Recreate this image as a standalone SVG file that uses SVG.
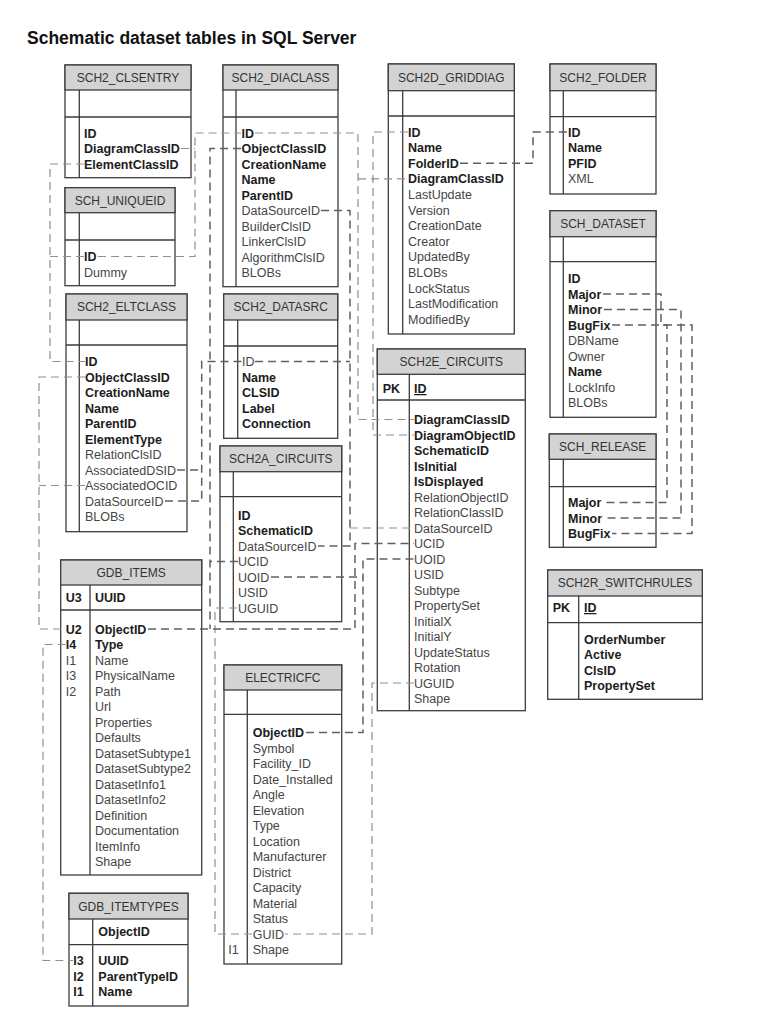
<svg xmlns="http://www.w3.org/2000/svg" width="768" height="1024" viewBox="0 0 768 1024">
<style>
text{font-family:"Liberation Sans",Arial,sans-serif;font-size:12.5px}
.t{font-size:17.5px;font-weight:bold;fill:#111}
.bx{fill:#fff;stroke:#3c3c3c;stroke-width:1.3}
.hd{fill:#d3d3d3;stroke:#3c3c3c;stroke-width:1.3}
.ln{stroke:#3c3c3c;stroke-width:1.3;fill:none}
.h{font-size:12px;fill:#333;text-anchor:middle}
.b{font-weight:bold;fill:#1c1c1c}
.r{fill:#454545}
.u{text-decoration:underline}
.c{fill:none;stroke:#8f8f8f;stroke-width:1.2;stroke-dasharray:8 5}
.d{fill:none;stroke:#606060;stroke-width:1.5;stroke-dasharray:8 5}
</style>
<rect width="768" height="1024" fill="#fff"/>
<text class="t" x="27" y="44">Schematic dataset tables in SQL Server</text>

<g id="SCH2_CLSENTRY">
<rect class="bx" x="65" y="65" width="126" height="112.7"/>
<rect class="hd" x="65" y="65" width="126" height="25"/>
<path class="ln" d="M65,117H191M79.3,90V177.7"/>
<text class="h" x="128" y="82">SCH2_CLSENTRY</text>
<text class="b" x="84" y="137.5">ID</text>
<text class="b" x="84" y="153">DiagramClassID</text>
<text class="b" x="84" y="168.5">ElementClassID</text>
</g>

<g id="SCH_UNIQUEID">
<rect class="bx" x="65" y="187.7" width="110" height="98"/>
<rect class="hd" x="65" y="187.7" width="110" height="25"/>
<path class="ln" d="M65,240H175M79.3,212.7V285.7"/>
<text class="h" x="120" y="204.5">SCH_UNIQUEID</text>
<text class="b" x="84" y="261">ID</text>
<text class="r" x="84" y="276.5">Dummy</text>
</g>

<g id="SCH2_DIACLASS">
<rect class="bx" x="223" y="65" width="115" height="221.7"/>
<rect class="hd" x="223" y="65" width="115" height="25"/>
<path class="ln" d="M223,117H338M236,90V286.7"/>
<text class="h" x="280.5" y="82">SCH2_DIACLASS</text>
<text class="b" x="241.5" y="137.5">ID</text>
<text class="b" x="241.5" y="153">ObjectClassID</text>
<text class="b" x="241.5" y="168.5">CreationName</text>
<text class="b" x="241.5" y="184">Name</text>
<text class="b" x="241.5" y="199.5">ParentID</text>
<text class="r" x="241.5" y="215">DataSourceID</text>
<text class="r" x="241.5" y="230.5">BuilderClsID</text>
<text class="r" x="241.5" y="246">LinkerClsID</text>
<text class="r" x="241.5" y="261.5">AlgorithmClsID</text>
<text class="r" x="241.5" y="277">BLOBs</text>
</g>

<g id="SCH2D_GRIDDIAG">
<rect class="bx" x="388.3" y="64" width="126" height="270"/>
<rect class="hd" x="388.3" y="64" width="126" height="26.7"/>
<path class="ln" d="M388.3,116H514.3M402.7,90.7V334"/>
<text class="h" x="451.3" y="81.5">SCH2D_GRIDDIAG</text>
<text class="b" x="408" y="136.5">ID</text>
<text class="b" x="408" y="152.1">Name</text>
<text class="b" x="408" y="167.7">FolderID</text>
<text class="b" x="408" y="183.3">DiagramClassID</text>
<text class="r" x="408" y="198.9">LastUpdate</text>
<text class="r" x="408" y="214.5">Version</text>
<text class="r" x="408" y="230.1">CreationDate</text>
<text class="r" x="408" y="245.7">Creator</text>
<text class="r" x="408" y="261.3">UpdatedBy</text>
<text class="r" x="408" y="276.9">BLOBs</text>
<text class="r" x="408" y="292.5">LockStatus</text>
<text class="r" x="408" y="308.1">LastModification</text>
<text class="r" x="408" y="323.7">ModifiedBy</text>
</g>

<g id="SCH2_FOLDER">
<rect class="bx" x="550" y="64" width="106" height="130"/>
<rect class="hd" x="550" y="64" width="106" height="26.7"/>
<path class="ln" d="M550,116.7H656M563.3,90.7V194"/>
<text class="h" x="603" y="81.5">SCH2_FOLDER</text>
<text class="b" x="568" y="136.5">ID</text>
<text class="b" x="568" y="152.1">Name</text>
<text class="b" x="568" y="167.7">PFID</text>
<text class="r" x="568" y="183.3">XML</text>
</g>

<g id="SCH_DATASET">
<rect class="bx" x="550" y="210.7" width="106" height="206.6"/>
<rect class="hd" x="550" y="210.7" width="106" height="26"/>
<path class="ln" d="M550,261.7H656M563.3,236.7V417.3"/>
<text class="h" x="603" y="228">SCH_DATASET</text>
<text class="b" x="568" y="283">ID</text>
<text class="b" x="568" y="298.5">Major</text>
<text class="b" x="568" y="314">Minor</text>
<text class="b" x="568" y="329.5">BugFix</text>
<text class="r" x="568" y="345">DBName</text>
<text class="r" x="568" y="360.5">Owner</text>
<text class="b" x="568" y="376">Name</text>
<text class="r" x="568" y="391.5">LockInfo</text>
<text class="r" x="568" y="407">BLOBs</text>
</g>

<g id="SCH2_ELTCLASS">
<rect class="bx" x="66" y="294" width="121" height="237.7"/>
<rect class="hd" x="66" y="294" width="121" height="26"/>
<path class="ln" d="M66,345H187M79.3,320V531.7"/>
<text class="h" x="126.5" y="311">SCH2_ELTCLASS</text>
<text class="b" x="85" y="366">ID</text>
<text class="b" x="85" y="381.5">ObjectClassID</text>
<text class="b" x="85" y="397">CreationName</text>
<text class="b" x="85" y="412.5">Name</text>
<text class="b" x="85" y="428">ParentID</text>
<text class="b" x="85" y="443.5">ElementType</text>
<text class="r" x="85" y="459">RelationClsID</text>
<text class="r" x="85" y="474.5">AssociatedDSID</text>
<text class="r" x="85" y="490">AssociatedOCID</text>
<text class="r" x="85" y="505.5">DataSourceID</text>
<text class="r" x="85" y="521">BLOBs</text>
</g>

<g id="SCH2_DATASRC">
<rect class="bx" x="223.7" y="294" width="114" height="144.3"/>
<rect class="hd" x="223.7" y="294" width="114" height="26"/>
<path class="ln" d="M223.7,346H337.7M237.7,320V438.3"/>
<text class="h" x="280.7" y="311">SCH2_DATASRC</text>
<text class="r" x="242" y="366">ID</text>
<text class="b" x="242" y="381.5">Name</text>
<text class="b" x="242" y="397">CLSID</text>
<text class="b" x="242" y="412.5">Label</text>
<text class="b" x="242" y="428">Connection</text>
</g>

<g id="SCH2A_CIRCUITS">
<rect class="bx" x="220" y="446" width="121.7" height="175.7"/>
<rect class="hd" x="220" y="446" width="121.7" height="25.7"/>
<path class="ln" d="M220,496.7H341.7M233.3,471.7V621.7"/>
<text class="h" x="280.8" y="463">SCH2A_CIRCUITS</text>
<text class="b" x="238" y="519.5">ID</text>
<text class="b" x="238" y="535">SchematicID</text>
<text class="r" x="238" y="550.5">DataSourceID</text>
<text class="r" x="238" y="566">UCID</text>
<text class="r" x="238" y="581.5">UOID</text>
<text class="r" x="238" y="597">USID</text>
<text class="r" x="238" y="612.5">UGUID</text>
</g>

<g id="SCH2E_CIRCUITS">
<rect class="bx" x="377.3" y="349" width="148" height="361.7"/>
<rect class="hd" x="377.3" y="349" width="148" height="25.3"/>
<path class="ln" d="M377.3,400H525.3M409.3,374.3V710.7"/>
<text class="h" x="451.3" y="366">SCH2E_CIRCUITS</text>
<text class="b" x="382.7" y="393">PK</text>
<text class="b u" x="414" y="393">ID</text>
<text class="b" x="414" y="424">DiagramClassID</text>
<text class="b" x="414" y="439.5">DiagramObjectID</text>
<text class="b" x="414" y="455">SchematicID</text>
<text class="b" x="414" y="470.5">IsInitial</text>
<text class="b" x="414" y="486">IsDisplayed</text>
<text class="r" x="414" y="501.5">RelationObjectID</text>
<text class="r" x="414" y="517">RelationClassID</text>
<text class="r" x="414" y="532.5">DataSourceID</text>
<text class="r" x="414" y="548">UCID</text>
<text class="r" x="414" y="563.5">UOID</text>
<text class="r" x="414" y="579">USID</text>
<text class="r" x="414" y="594.5">Subtype</text>
<text class="r" x="414" y="610">PropertySet</text>
<text class="r" x="414" y="625.5">InitialX</text>
<text class="r" x="414" y="641">InitialY</text>
<text class="r" x="414" y="656.5">UpdateStatus</text>
<text class="r" x="414" y="672">Rotation</text>
<text class="r" x="414" y="687.5">UGUID</text>
<text class="r" x="414" y="703">Shape</text>
</g>

<g id="SCH_RELEASE">
<rect class="bx" x="549.3" y="434" width="106.7" height="113.3"/>
<rect class="hd" x="549.3" y="434" width="106.7" height="25.3"/>
<path class="ln" d="M549.3,486.7H656M563.3,459.3V547.3"/>
<text class="h" x="602.7" y="451">SCH_RELEASE</text>
<text class="b" x="568" y="507">Major</text>
<text class="b" x="568" y="522.5">Minor</text>
<text class="b" x="568" y="538">BugFix</text>
</g>

<g id="SCH2R_SWITCHRULES">
<rect class="bx" x="547.7" y="570" width="154.6" height="129.3"/>
<rect class="hd" x="547.7" y="570" width="154.6" height="26"/>
<path class="ln" d="M547.7,622.7H702.3M578.7,596V699.3"/>
<text class="h" x="625" y="587">SCH2R_SWITCHRULES</text>
<text class="b" x="552.7" y="612">PK</text>
<text class="b u" x="584" y="612">ID</text>
<text class="b" x="584" y="643.5">OrderNumber</text>
<text class="b" x="584" y="659">Active</text>
<text class="b" x="584" y="674.5">ClsID</text>
<text class="b" x="584" y="690">PropertySet</text>
</g>

<g id="GDB_ITEMS">
<rect class="bx" x="60.7" y="560" width="141" height="315"/>
<rect class="hd" x="60.7" y="560" width="141" height="25"/>
<path class="ln" d="M60.7,610H201.7M90,585V875"/>
<text class="h" x="131.2" y="577">GDB_ITEMS</text>
<text class="b" x="65.7" y="602">U3</text>
<text class="b" x="95" y="602">UUID</text>
<text class="b" x="65.7" y="633.5">U2</text>
<text class="b" x="65.7" y="649">I4</text>
<text class="r" x="65.7" y="664.5">I1</text>
<text class="r" x="65.7" y="680">I3</text>
<text class="r" x="65.7" y="695.5">I2</text>
<text class="b" x="95" y="633.5">ObjectID</text>
<text class="b" x="95" y="649">Type</text>
<text class="r" x="95" y="664.5">Name</text>
<text class="r" x="95" y="680">PhysicalName</text>
<text class="r" x="95" y="695.5">Path</text>
<text class="r" x="95" y="711">Url</text>
<text class="r" x="95" y="726.5">Properties</text>
<text class="r" x="95" y="742">Defaults</text>
<text class="r" x="95" y="757.5">DatasetSubtype1</text>
<text class="r" x="95" y="773">DatasetSubtype2</text>
<text class="r" x="95" y="788.5">DatasetInfo1</text>
<text class="r" x="95" y="804">DatasetInfo2</text>
<text class="r" x="95" y="819.5">Definition</text>
<text class="r" x="95" y="835">Documentation</text>
<text class="r" x="95" y="850.5">ItemInfo</text>
<text class="r" x="95" y="866">Shape</text>
</g>

<g id="ELECTRICFC">
<rect class="bx" x="224" y="665" width="117.7" height="299"/>
<rect class="hd" x="224" y="665" width="117.7" height="25"/>
<path class="ln" d="M224,714.3H341.7M247.3,690V964"/>
<text class="h" x="282.8" y="682">ELECTRICFC</text>
<text class="b" x="252.7" y="737">ObjectID</text>
<text class="r" x="252.7" y="752.5">Symbol</text>
<text class="r" x="252.7" y="768">Facility_ID</text>
<text class="r" x="252.7" y="783.5">Date_Installed</text>
<text class="r" x="252.7" y="799">Angle</text>
<text class="r" x="252.7" y="814.5">Elevation</text>
<text class="r" x="252.7" y="830">Type</text>
<text class="r" x="252.7" y="845.5">Location</text>
<text class="r" x="252.7" y="861">Manufacturer</text>
<text class="r" x="252.7" y="876.5">District</text>
<text class="r" x="252.7" y="892">Capacity</text>
<text class="r" x="252.7" y="907.5">Material</text>
<text class="r" x="252.7" y="923">Status</text>
<text class="r" x="252.7" y="938.5">GUID</text>
<text class="r" x="228.3" y="954">I1</text>
<text class="r" x="252.7" y="954">Shape</text>
</g>

<g id="GDB_ITEMTYPES">
<rect class="bx" x="69" y="893.3" width="119" height="112.7"/>
<rect class="hd" x="69" y="893.3" width="119" height="25.7"/>
<path class="ln" d="M69,944.7H188M92.7,919V1006"/>
<text class="h" x="128.5" y="910.5">GDB_ITEMTYPES</text>
<text class="b" x="98.3" y="935.5">ObjectID</text>
<text class="b" x="73.3" y="965">I3</text>
<text class="b" x="73.3" y="980.5">I2</text>
<text class="b" x="73.3" y="996">I1</text>
<text class="b" x="98.3" y="965">UUID</text>
<text class="b" x="98.3" y="980.5">ParentTypeID</text>
<text class="b" x="98.3" y="996">Name</text>
</g>

<g id="connectors">
<path class="c" d="M84,164H50V361.5H85"/>
<path class="c" d="M84,256.5H50"/>
<path class="c" d="M98,256.5H195V133H241"/>
<path class="c" d="M181,148.5H195"/>
<path class="c" d="M255,133H358V419.5H414"/>
<path class="c" d="M358,178.8H408"/>
<path class="c" d="M408,132H373V435H414"/>
<path class="c" d="M85,377H39V629H65.7"/>
<path class="c" d="M85,485.5H39"/>
<path class="c" d="M350,528H414"/>
<path class="c" d="M414,683H372V934H285"/>
<path class="c" d="M252,934H215V608H238"/>
<path class="c" d="M65.7,644.5H43V960.5H73"/>
<path class="d" d="M241,148.5H210V629"/>
<path class="d" d="M238,561.5H210"/>
<path class="d" d="M148,629H355V543.5H414"/>
<path class="d" d="M306,732.5H363V559H414"/>
<path class="d" d="M271,577H363"/>
<path class="d" d="M321,210.5H350V546H318"/>
<path class="d" d="M255,361.5H350"/>
<path class="d" d="M241.5,361.5H201.7V501H165"/>
<path class="d" d="M177,470H201.7"/>
<path class="d" d="M460,163.2H533V132H568"/>
<path class="d" d="M603,294H661V325H667V502.5H603"/>
<path class="d" d="M604,309.5H681V518H604"/>
<path class="d" d="M612,325H692V533.5H612"/>
</g>
</svg>
